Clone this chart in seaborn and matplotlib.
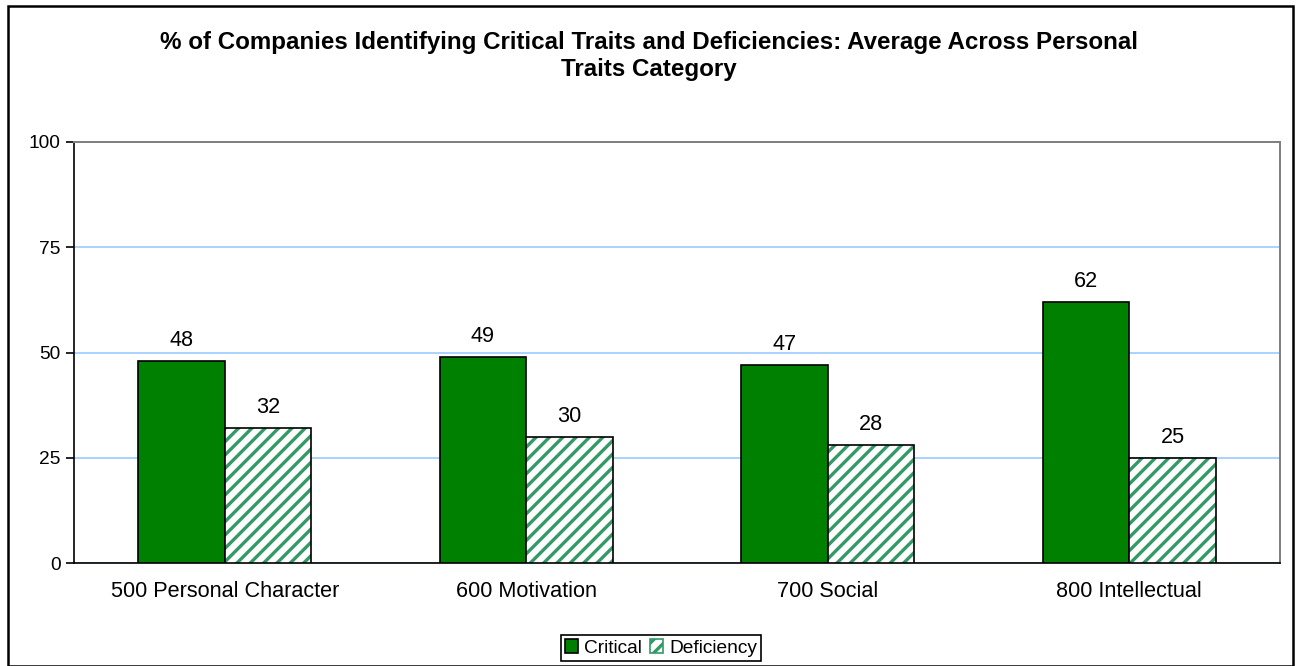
import pandas as pd
import matplotlib.pyplot as plt
import seaborn as sns
from matplotlib import font_manager
from matplotlib.patches import Patch, Rectangle

# dados
categorias = ["500 Personal Character", "600 Motivation", "700 Social", "800 Intellectual"]
series = ["Critical", "Deficiency"]
critical = [48, 49, 47, 62]
deficiency = [32, 30, 28, 25]
yticks = [0, 25, 50, 75, 100]

df = pd.DataFrame({
    "Categoria": categorias * 2,
    "Serie": [series[0]] * 4 + [series[1]] * 4,
    "Valor": critical + deficiency,
})

DPI = 120
verde = "#008000"
verde_hatch = "#339966"
fs = 11.5

sns.set_theme(style="white")
plt.rcParams["font.family"] = ["Liberation Sans", "DejaVu Sans"]
plt.rcParams["hatch.linewidth"] = 2.0
plt.rcParams["text.color"] = "black"

# se o negrito cair na versao Narrow, usa outra familia para o titulo
fonte_titulo = ["Liberation Sans", "DejaVu Sans"]
caminho = font_manager.findfont(font_manager.FontProperties(family="Liberation Sans", weight="bold"))
if "Narrow" in caminho or "Liberation" not in caminho:
    fonte_titulo = ["Inter", "DejaVu Sans"]

fig = plt.figure(figsize=(1298 / DPI, 666 / DPI), dpi=DPI)
ax = fig.add_axes([74 / 1298, 1 - 563 / 666, (1280 - 74) / 1298, (563 - 142) / 666])

sns.barplot(data=df, x="Categoria", y="Valor", hue="Serie", hue_order=series,
            palette=[verde, "white"], saturation=1, width=0.575, gap=0, ax=ax, legend=False,
            edgecolor="black", linewidth=1.0, zorder=3)

# barras hachuradas: cor da hachura = edgecolor, entao contorno preto por cima
for p in ax.containers[1]:
    p.set_hatch("///")
    p.set_edgecolor(verde_hatch)
    p.set_linewidth(0)
    ax.add_patch(Rectangle(p.get_xy(), p.get_width(), p.get_height(), fill=False,
                           edgecolor="black", linewidth=1.0, zorder=4))

for cont in ax.containers:
    ax.bar_label(cont, labels=[f"{v:.0f}" for v in cont.datavalues], padding=6,
                 fontsize=13, color="black")

ax.set_ylim(0, 100)
ax.set_xlim(-0.5, 3.5)
ax.set_yticks(yticks)
ax.yaxis.grid(True, color="#99CCFF", linewidth=1.0, zorder=0)
ax.set_axisbelow(True)
ax.set_xlabel("")
ax.set_ylabel("")

ax.set_xticks(range(len(categorias)))
ax.set_xticklabels(categorias)
ax.set_xticks([-0.5, 0.5, 1.5, 2.5, 3.5], minor=True)
ax.tick_params(axis="x", which="major", length=0, pad=11, labelsize=13, labelcolor="black")
ax.tick_params(axis="x", which="minor", length=5, width=1, color="black", direction="out")
ax.tick_params(axis="y", length=5, width=1, color="black", direction="out", pad=3,
               labelsize=fs, labelcolor="black", left=True)

for lado in ["left", "bottom"]:
    ax.spines[lado].set_color("black")
    ax.spines[lado].set_linewidth(1.0)
for lado in ["top", "right"]:
    ax.spines[lado].set_color("#808080")
    ax.spines[lado].set_linewidth(1.2)

fig.text(0.5, 1 - 56 / 666,
         "% of Companies Identifying Critical Traits and Deficiencies: Average Across Personal\nTraits Category",
         ha="center", va="center", fontsize=14.5, fontweight="bold", family=fonte_titulo,
         fontstretch="normal", linespacing=1.18, color="black")

handles = [
    Patch(facecolor=verde, edgecolor="black", linewidth=1.0, label="Critical"),
    Patch(facecolor="white", edgecolor=verde_hatch, hatch="///", linewidth=1.0, label="Deficiency"),
]
fig.legend(handles=handles, loc="center", bbox_to_anchor=(661 / 1298, 1 - 648 / 666), ncol=2,
           frameon=True, fancybox=False, edgecolor="black", fontsize=fs,
           handlelength=0.7, handleheight=0.7, handletextpad=0.3, columnspacing=0.4,
           borderpad=0.2, framealpha=1, labelcolor="black")

fig.add_artist(Rectangle((8 / 1298, 0), (1293 - 8) / 1298, 1 - 6 / 666,
                         transform=fig.transFigure, fill=False, edgecolor="black", linewidth=1.5))

fig.savefig("out.png", dpi=DPI, facecolor="white")
plt.close()
